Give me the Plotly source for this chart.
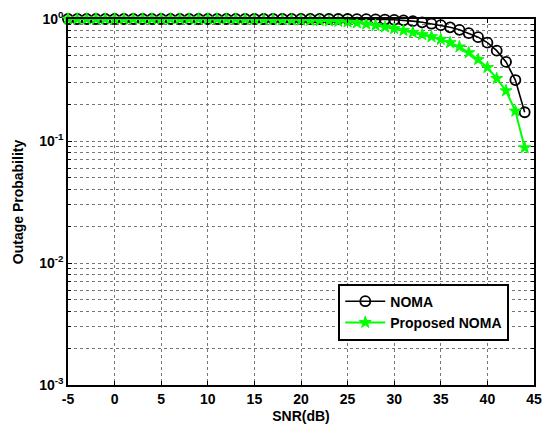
import plotly.graph_objects as go

snr_db = list(range(-5, 45))

noma = [1.0] * 31 + [0.998, 0.996, 0.993, 0.99, 0.985, 0.975, 0.96, 0.94, 0.915,
                     0.89, 0.855, 0.815, 0.765, 0.71, 0.64, 0.55, 0.445, 0.316, 0.172]

proposed = [1.0] * 16 + [0.999, 0.998, 0.997, 0.996, 0.994, 0.992, 0.99, 0.987, 0.984,
                         0.98, 0.975, 0.97, 0.963, 0.955, 0.945, 0.93, 0.91, 0.885, 0.86,
                         0.835, 0.805, 0.775, 0.745, 0.715, 0.68, 0.64, 0.59, 0.53, 0.465,
                         0.40, 0.325, 0.258, 0.176, 0.088]

x_ticks = [-5, 0, 5, 10, 15, 20, 25, 30, 35, 40, 45]
y_tickvals = [1e-3, 1e-2, 1e-1, 1e0]
y_ticktext = ["10<sup>-3</sup>", "10<sup>-2</sup>", "10<sup>-1</sup>", "10<sup>0</sup>"]

FONT = "Liberation Sans"
fs = 14

fig = go.Figure()
fig.add_trace(go.Scatter(
    x=snr_db, y=noma, name="<b>NOMA</b>", mode="lines+markers",
    line=dict(color="black", width=1.6),
    marker=dict(symbol="circle-open", size=10, color="black", line=dict(width=1.8)),
    cliponaxis=False,
))
fig.add_trace(go.Scatter(
    x=snr_db, y=proposed, name="<b>Proposed NOMA</b>", mode="lines+markers",
    line=dict(color="#00ff00", width=2),
    marker=dict(symbol="star", size=9, color="#00ff00", line=dict(width=1, color="#00ff00")),
    cliponaxis=False,
))

gridc = "#777777"
fig.update_layout(
    width=551, height=432,
    margin=dict(l=68, r=9, t=17, b=47),
    paper_bgcolor="white", plot_bgcolor="white",
    font=dict(family=FONT, size=fs, color="black"),
    showlegend=True,
    legend=dict(
        x=0.58, y=0.277, xanchor="left", yanchor="top",
        bgcolor="white", bordercolor="black", borderwidth=2,
        font=dict(family=FONT, size=fs, color="black"),
        tracegroupgap=0, itemwidth=40,
    ),
    xaxis=dict(
        range=[-5, 45], tickvals=x_ticks,
        ticktext=[f"<b>{v}</b>" for v in x_ticks],
        ticks="inside", ticklen=4, tickcolor="black",
        showline=True, linecolor="black", linewidth=1.5, mirror="ticks",
        showgrid=True, gridcolor=gridc, griddash="dot", gridwidth=1,
        zeroline=False,
        title=dict(text="<b>SNR(dB)</b>", standoff=6, font=dict(size=fs)),
    ),
    yaxis=dict(
        type="log", range=[-3, 0],
        tickvals=y_tickvals, ticktext=[f"<b>{t}</b>" for t in y_ticktext],
        ticks="inside", ticklen=4, tickcolor="black",
        showline=True, linecolor="black", linewidth=1.5, mirror="ticks",
        showgrid=True, gridcolor=gridc, griddash="dot", gridwidth=1,
        zeroline=False,
        minor=dict(dtick="D1", ticks="inside", ticklen=3, tickcolor="black",
                   showgrid=True, gridcolor=gridc, griddash="dot", gridwidth=1),
        title=dict(text="<b>Outage Probability</b>", standoff=12, font=dict(size=fs)),
    ),
)

fig.write_html("out.html")
